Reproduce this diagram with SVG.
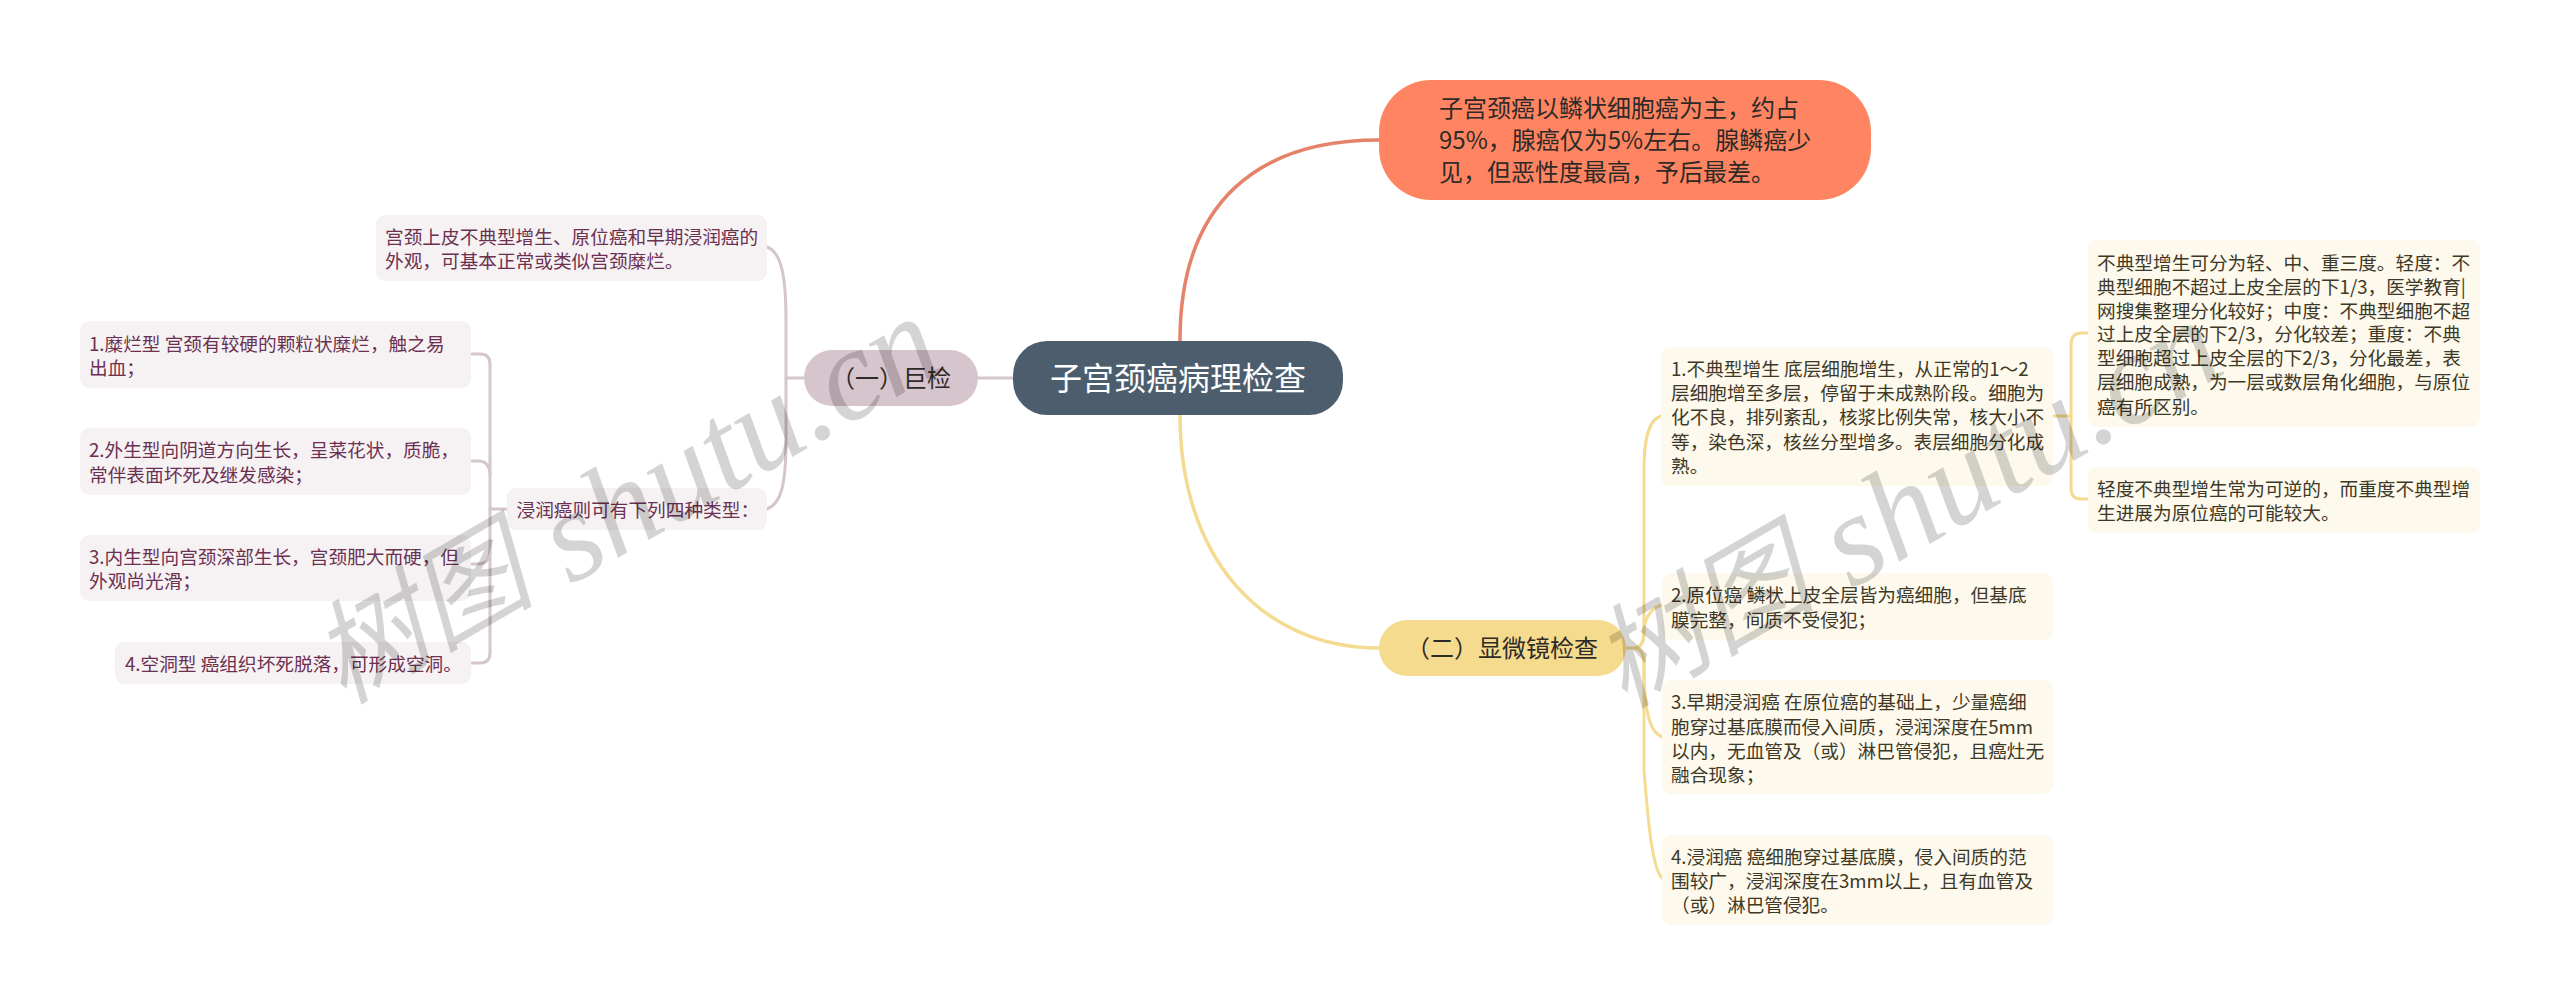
<svg xmlns="http://www.w3.org/2000/svg" width="2560" height="1005" viewBox="0 0 2560 1005">
<style>
text{font-family:"Noto Sans CJK SC","Noto Sans",sans-serif}
.pl{fill:#F6F2F4}.py{fill:#FDF9EC}
.tl{font-size:18.67px;fill:#6C3050}
.ty{font-size:18.67px;fill:#3E3826}
.m{font-size:24px;fill:#2E2A28}
.c{fill:none;stroke-linecap:round}
.cp{stroke:#D5C5CC;stroke-width:3}
.cy{stroke:#F5DB92;stroke-width:3}
.wm{fill:#000;fill-opacity:.17;font-style:italic}
.wc{font-family:"Noto Sans CJK SC",serif;font-size:112px}
.wl{font-family:"Liberation Serif",serif;font-size:130px}
</style>
<rect width="2560" height="1005" fill="#FFFFFF"/>
<g id="connectors">
<path class="c" d="M1180 341C1180 200 1260 140 1379 140" stroke="#E5826A" stroke-width="3.5"/>
<path class="c" d="M1180 415C1180 556 1260 648 1379 648" stroke="#F5DB92" stroke-width="3.5"/>
<path class="c cp" d="M978 378H1013"/>
<path class="c cp" d="M804 378H786"/>
<path class="c cp" d="M767 247C781 252 786 275 786 320V440C786 485 781 504 767 509"/>
<path class="c cp" d="M507 509H490"/>
<path class="c cp" d="M472 354H480Q490 354 490 364V653Q490 663 480 663H472"/>
<path class="c cp" d="M472 461H478Q490 461 490 475"/>
<path class="c cp" d="M472 564H478Q490 564 490 550"/>
<path class="c cy" d="M1626 648H1634Q1644 648 1644 630V470C1644 440 1648 420 1661 416"/>
<path class="c cy" d="M1634 648Q1644 648 1644 632C1644 620 1650 608 1662 605"/>
<path class="c cy" d="M1634 648Q1644 648 1644 664V680C1646 715 1650 732 1662 737"/>
<path class="c cy" d="M1634 648Q1644 648 1644 664V770C1648 820 1652 868 1662 878"/>
<path class="c cy" d="M2053 416H2071"/>
<path class="c cy" d="M2088 333H2081Q2071 333 2071 345V488Q2071 499 2081 499H2088"/>
</g>
<g id="root"><rect x="1013" y="341" width="330" height="74" rx="34" fill="#4C5E6E"/>
<text x="1178" y="389.500" text-anchor="middle" font-size="32" fill="#FFFFFF">子宫颈癌病理检查</text></g>
<g id="n-top"><rect x="1379" y="80" width="492" height="120" rx="52" fill="#FF8562"/>
<text class="m" x="1439" y="116.500">子宫颈癌以鳞状细胞癌为主，约占</text>
<text class="m" x="1439" y="148.500">95%，腺癌仅为5%左右。腺鳞癌少</text>
<text class="m" x="1439" y="180.500">见，但恶性度最高，予后最差。</text></g>
<g id="n-gross"><rect x="804" y="350" width="174" height="56" rx="28" fill="#D6C5CD"/>
<text class="m" x="891" y="386.500" text-anchor="middle">（一）巨检</text></g>
<g id="n-micro"><rect x="1379" y="620" width="247" height="56" rx="28" fill="#F5DB8E"/>
<text class="m" x="1502" y="656.500" text-anchor="middle">（二）显微镜检查</text></g>
<g id="l-top"><rect class="pl" x="376" y="215" width="391" height="66" rx="9"/>
<text class="tl" x="385" y="243.700">宫颈上皮不典型增生、原位癌和早期浸润癌的</text>
<text class="tl" x="385" y="267.700">外观，可基本正常或类似宫颈糜烂。</text></g>
<g id="l-infil"><rect class="pl" x="507" y="488" width="260" height="42" rx="9"/>
<text class="tl" x="516.500" y="516.700">浸润癌则可有下列四种类型：</text></g>
<g id="l-1"><rect class="pl" x="80" y="321" width="391" height="67" rx="9"/>
<text class="tl" x="89" y="350.500">1.糜烂型 宫颈有较硬的颗粒状糜烂，触之易</text>
<text class="tl" x="89" y="374.700">出血；</text></g>
<g id="l-2"><rect class="pl" x="80" y="428" width="391" height="67" rx="9"/>
<text class="tl" x="89" y="457.400">2.外生型向阴道方向生长，呈菜花状，质脆，</text>
<text class="tl" x="89" y="481.700">常伴表面坏死及继发感染；</text></g>
<g id="l-3"><rect class="pl" x="80" y="535" width="391" height="66" rx="9"/>
<text class="tl" x="89" y="564.300">3.内生型向宫颈深部生长，宫颈肥大而硬，但</text>
<text class="tl" x="89" y="588.400">外观尚光滑；</text></g>
<g id="l-4"><rect class="pl" x="115" y="642" width="356" height="42" rx="9"/>
<text class="tl" x="125" y="671.200">4.空洞型 癌组织坏死脱落，可形成空洞。</text></g>
<g id="r-1"><rect class="py" x="1661" y="347" width="392" height="139" rx="9"/>
<text class="ty" x="1671" y="375.700">1.不典型增生 底层细胞增生，从正常的1～2</text>
<text class="ty" x="1671" y="399.700">层细胞增至多层，停留于未成熟阶段。细胞为</text>
<text class="ty" x="1671" y="423.700">化不良，排列紊乱，核浆比例失常，核大小不</text>
<text class="ty" x="1671" y="448.700">等，染色深，核丝分型增多。表层细胞分化成</text>
<text class="ty" x="1671" y="472.700">熟。</text></g>
<g id="r-2"><rect class="py" x="1662" y="573" width="391" height="67" rx="9"/>
<text class="ty" x="1671" y="602.400">2.原位癌 鳞状上皮全层皆为癌细胞，但基底</text>
<text class="ty" x="1671" y="626.700">膜完整，间质不受侵犯；</text></g>
<g id="r-3"><rect class="py" x="1662" y="680" width="391" height="114" rx="9"/>
<text class="ty" x="1671" y="708.700">3.早期浸润癌 在原位癌的基础上，少量癌细</text>
<text class="ty" x="1671" y="733.700">胞穿过基底膜而侵入间质，浸润深度在5mm</text>
<text class="ty" x="1671" y="757.700">以内，无血管及（或）淋巴管侵犯，且癌灶无</text>
<text class="ty" x="1671" y="781.700">融合现象；</text></g>
<g id="r-4"><rect class="py" x="1662" y="835" width="391" height="90" rx="9"/>
<text class="ty" x="1671" y="863.700">4.浸润癌 癌细胞穿过基底膜，侵入间质的范</text>
<text class="ty" x="1671" y="887.700">围较广，浸润深度在3mm以上，且有血管及</text>
<text class="ty" x="1671" y="911.700">（或）淋巴管侵犯。</text></g>
<g id="r-1a"><rect class="py" x="2088" y="240" width="392" height="187" rx="9"/>
<text class="ty" x="2097" y="269.700">不典型增生可分为轻、中、重三度。轻度：不</text>
<text class="ty" x="2097" y="293.700">典型细胞不超过上皮全层的下1/3，医学教育|</text>
<text class="ty" x="2097" y="317.700">网搜集整理分化较好；中度：不典型细胞不超</text>
<text class="ty" x="2097" y="340.700">过上皮全层的下2/3，分化较差；重度：不典</text>
<text class="ty" x="2097" y="364.700">型细胞超过上皮全层的下2/3，分化最差，表</text>
<text class="ty" x="2097" y="388.700">层细胞成熟，为一层或数层角化细胞，与原位</text>
<text class="ty" x="2097" y="413.700">癌有所区别。</text></g>
<g id="r-1b"><rect class="py" x="2088" y="467" width="392" height="66" rx="9"/>
<text class="ty" x="2097" y="495.700">轻度不典型增生常为可逆的，而重度不典型增</text>
<text class="ty" x="2097" y="519.700">生进展为原位癌的可能较大。</text></g>
<text class="wm" transform="translate(343 705) rotate(-30)"><tspan class="wc">树图</tspan><tspan class="wl" x="224" y="10"> shutu.cn</tspan></text>
<text class="wm" transform="translate(1624 709) rotate(-30)"><tspan class="wc">树图</tspan><tspan class="wl" x="224" y="10"> shutu.cn</tspan></text>
</svg>
